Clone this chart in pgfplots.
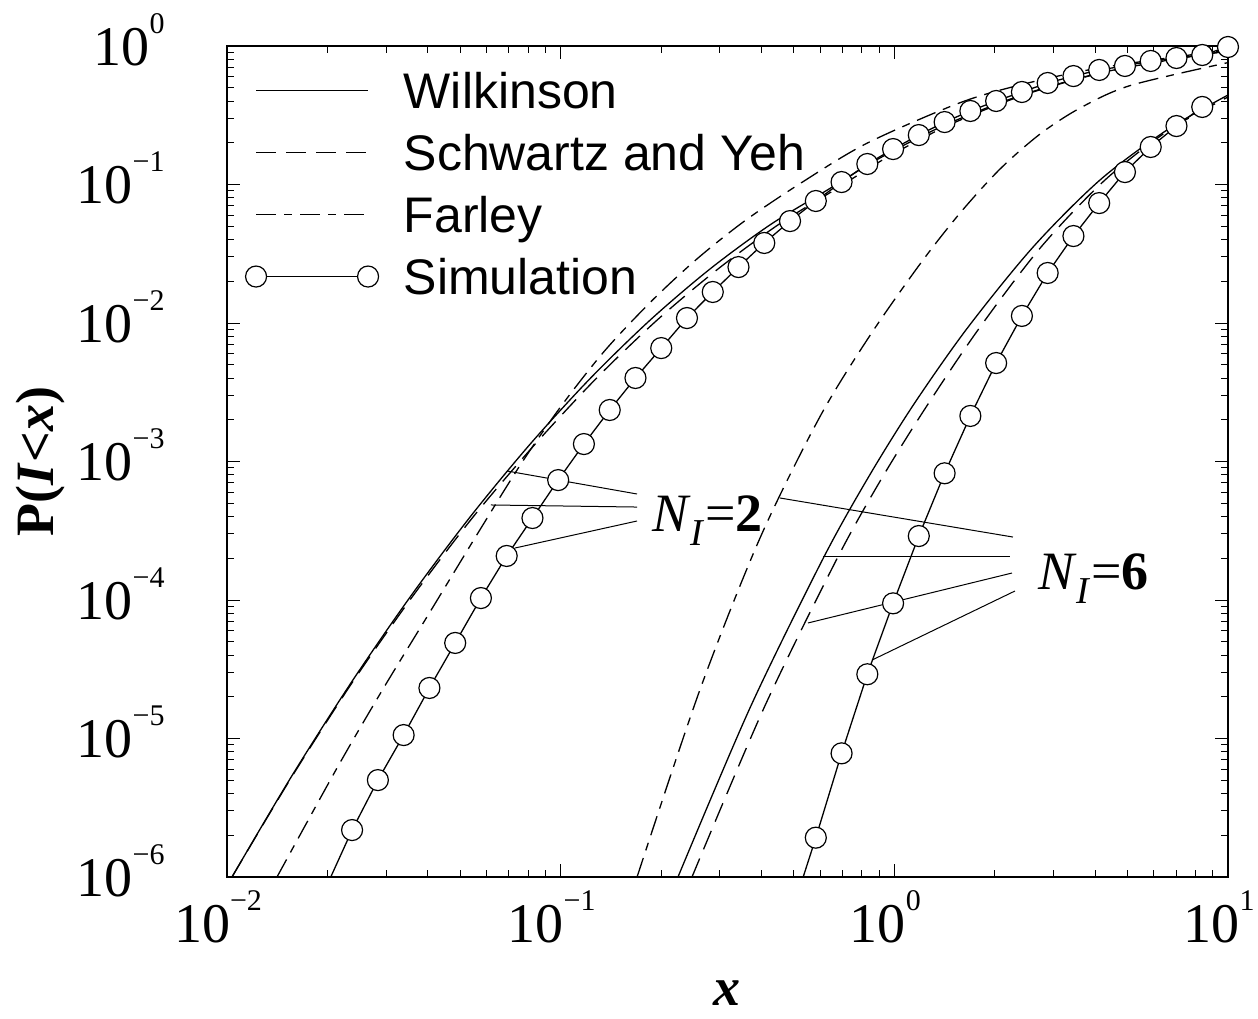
\documentclass[border=0pt]{standalone}
\usepackage{fontspec}
\setmainfont{Liberation Serif}
\newfontfamily\arial{Liberation Sans}
\usepackage{pgfplots}
\pgfplotsset{compat=1.18}
\newcommand\pw[1]{10\raisebox{16pt}{\fontsize{15}{15}\selectfont #1}}
\pgfplotsset{
  lineleg/.style={legend image code/.code={\path (-6pt,0pt) (62pt,0pt); \draw[##1] (0pt,0pt) -- (56pt,0pt);}},
  simleg/.style={legend image code/.code={\path (-6pt,0pt) (62pt,0pt); \draw[mark repeat=1,mark phase=1,##1] plot coordinates {(0pt,0pt) (56pt,0pt)};}},
  wil/.style={black, line width=0.65pt, no marks, smooth},
  sch/.style={black, line width=0.65pt, no marks, smooth, dash pattern=on 10pt off 5pt},
  far/.style={black, line width=0.65pt, no marks, smooth, dash pattern=on 10pt off 4pt on 4pt off 4pt},
  sim/.style={black, line width=0.65pt, mark=*, mark size=5.25pt, mark options={fill=white, draw=black, solid, line width=0.6pt}},
}
\begin{document}
\begin{tikzpicture}
\path[use as bounding box] (-113.5pt,-70.5pt) rectangle (515.5pt,438.5pt);
\begin{axis}[
  at={(0pt,0pt)}, anchor=south west,
  scale only axis, width=500.5pt, height=415.5pt,
  xmode=log, ymode=log,
  xmin=0.01, xmax=10, ymin=1e-6, ymax=1,
  xtick={0.01,0.1,1,10},
  xticklabels={\pw{−2},\pw{−1},\pw{0},\pw{1}},
  ytick={1e-6,1e-5,1e-4,1e-3,1e-2,1e-1,1},
  yticklabels={\pw{−6},\pw{−5},\pw{−4},\pw{−3},\pw{−2},\pw{−1},\pw{0}},
  minor xtick={0.02,0.03,0.04,0.05,0.06,0.07,0.08,0.09,0.2,0.3,0.4,0.5,0.6,0.7,0.8,0.9,2,3,4,5,6,7,8,9},
  minor ytick={2e-6,3e-6,4e-6,5e-6,6e-6,7e-6,8e-6,9e-6,2e-5,3e-5,4e-5,5e-5,6e-5,7e-5,8e-5,9e-5,2e-4,3e-4,4e-4,5e-4,6e-4,7e-4,8e-4,9e-4,2e-3,3e-3,4e-3,5e-3,6e-3,7e-3,8e-3,9e-3,0.02,0.03,0.04,0.05,0.06,0.07,0.08,0.09,0.2,0.3,0.4,0.5,0.6,0.7,0.8,0.9},
  major tick length=6.5pt, minor tick length=3.75pt,
  every tick/.style={black, line width=0.5pt},
  axis line style={line width=1pt},
  tick label style={font=\fontsize{28}{30}\selectfont},
  xticklabel style={anchor=base, yshift=-32.5pt, xshift=-4.5pt, inner sep=0pt},
  yticklabel style={anchor=base east, xshift=-31pt, yshift=-9.5pt, inner sep=0pt},
  xlabel={\textbf{\textit{x}}},
  xlabel style={at={(axis description cs:0.5,-0.140)}, anchor=center, inner sep=0pt, font=\fontsize{27}{30}\selectfont},
  ylabel={\textbf{P(\textit{I}<\textit{x})}},
  ylabel style={at={(axis description cs:-0.186,0.5)}, anchor=center, inner sep=0pt, font=\fontsize{27}{30}\selectfont},
  legend style={at={(axis description cs:0.016,0.983)}, anchor=north west, draw=none, fill=none, inner sep=0pt,
    font=\arial\fontsize{25}{30}\selectfont, row sep=1pt,
    nodes={inner sep=0pt, text height=24pt, text depth=6pt},
    /tikz/every odd column/.append style={column sep=11.5pt}},
  legend cell align=left,
]
% N = 2
\addplot[wil, lineleg] coordinates {(0.010351,1e-6) (0.015447,5.109e-6) (0.02337,2.458e-5) (0.035353,1.0477e-4) (0.053486,3.968e-4) (0.080923,1.3311e-3) (0.12243,3.9618e-3) (0.18525,1.0477e-2) (0.2802,2.454e-2) (0.4240,5.109e-2) (0.6371,9.279e-2) (0.9057,0.15538) (1.419,0.2689) (2.412,0.4428) (4.134,0.6384) (6.935,0.8056) (10,0.9203)};
\addlegendentry{Wilkinson}
\addplot[sch, lineleg] coordinates {(0.010351,1e-6) (0.015501,5.109e-6) (0.023531,2.458e-5) (0.035844,1.0477e-4) (0.054604,3.968e-4) (0.083763,1.3311e-3) (0.12761,3.9618e-3) (0.19442,1.0477e-2) (0.29612,2.454e-2) (0.44808,5.109e-2) (0.66864,9.279e-2) (0.94401,0.15538) (1.4587,0.2689) (2.4455,0.4428) (4.1625,0.6384) (6.935,0.8056) (10,0.9203)};
\addlegendentry{Schwartz and Yeh}
\addplot[far, lineleg] coordinates {(0.01412,1e-6) (0.021448,6.223e-6) (0.02922,2.239e-5) (0.040925,8.472e-5) (0.05652,3.047e-4) (0.07637,9.750e-4) (0.10092,2.559e-3) (0.13614,6.383e-3) (0.18868,1.466e-2) (0.25798,2.944e-2) (0.35927,5.546e-2) (0.5306,0.1042) (0.8309,0.1995) (1.5950,0.3942) (2.5855,0.5495) (4.1053,0.6937) (6.935,0.8329) (10,0.9357)};
\addlegendentry{Farley}
\addplot[black, line width=0.65pt, no marks, forget plot] coordinates {(0.01985,8.5e-7) (0.02371,2.183e-6)};
\addplot[sim, simleg] coordinates {(0.02371,2.183e-6) (0.02833,5.01e-6) (0.03384,1.059e-5) (0.04043,2.317e-5) (0.04830,4.898e-5) (0.05768,1.033e-4) (0.06891,2.080e-4) (0.08232,3.908e-4) (0.09831,7.345e-4) (0.1174,1.337e-3) (0.1403,2.355e-3) (0.1676,4.009e-3) (0.2002,6.592e-3) (0.2391,1.086e-2) (0.2857,1.675e-2) (0.3412,2.535e-2) (0.4076,3.784e-2) (0.4869,5.445e-2) (0.5817,7.603e-2) (0.6949,0.1042) (0.8300,0.1406) (0.9915,0.1803) (1.184,0.2275) (1.415,0.2825) (1.690,0.3396) (2.019,0.4009) (2.412,0.4656) (2.881,0.5408) (3.442,0.6068) (4.111,0.6714) (4.911,0.7178) (5.867,0.7798) (7.008,0.8192) (8.372,0.8611) (10.0,0.9835)};
\addlegendentry{Simulation}
% N = 6
\addplot[wil, forget plot] coordinates {(0.2247,1e-6) (0.36937,1.6633e-5) (0.6113,1.9871e-4) (0.83383,7.613e-4) (1.137,2.5328e-3) (1.651,9.112e-3) (2.604,3.5317e-2) (4.134,0.10777) (6.564,0.24746) (10,0.4428)};
\addplot[sch, forget plot] coordinates {(0.2475,1e-6) (0.4068,1.6633e-5) (0.6733,1.9871e-4) (0.91838,7.613e-4) (1.253,2.5328e-3) (1.7933,9.112e-3) (2.7509,3.5317e-2) (4.279,0.10777) (6.656,0.24746) (10,0.4282)};
\addplot[far, forget plot] coordinates {(0.16943,1e-6) (0.26157,2.2549e-5) (0.39573,2.7981e-4) (0.5987,2.1093e-3) (0.8456,8.137e-3) (1.1937,2.6624e-2) (1.5732,6.216e-2) (2.0730,0.12918) (2.732,0.23118) (3.601,0.35611) (5.0852,0.5177) (10,0.7588)};
\addplot[black, line width=0.65pt, no marks, forget plot] coordinates {(0.4869,5.06e-7) (0.5817,1.923e-6)};
\addplot[sim, forget plot] coordinates {(0.5817,1.923e-6) (0.6949,7.816e-6) (0.8300,2.911e-5) (0.9915,9.462e-5) (1.184,2.897e-4) (1.415,8.222e-4) (1.690,2.133e-3) (2.019,5.141e-3) (2.412,1.125e-2) (2.881,2.297e-2) (3.442,4.246e-2) (4.111,7.345e-2) (4.911,0.1230) (5.867,0.1866) (7.008,0.2643) (8.372,0.3631)};
% annotations
\draw[line width=0.5pt] (rel axis cs:0.2797,0.4886) -- (rel axis cs:0.4096,0.4609);
\draw[line width=0.5pt] (rel axis cs:0.2637,0.4477) -- (rel axis cs:0.4096,0.4452);
\draw[line width=0.5pt] (rel axis cs:0.2877,0.3959) -- (rel axis cs:0.4096,0.4284);
\draw[line width=0.5pt] (rel axis cs:0.5524,0.4561) -- (rel axis cs:0.7852,0.4091);
\draw[line width=0.5pt] (rel axis cs:0.5954,0.3851) -- (rel axis cs:0.7822,0.3851);
\draw[line width=0.5pt] (rel axis cs:0.5804,0.3057) -- (rel axis cs:0.7842,0.3658);
\draw[line width=0.5pt] (rel axis cs:0.6444,0.2611) -- (rel axis cs:0.7872,0.3442);
\node[anchor=base west, inner sep=0pt] at (rel axis cs:0.4246,0.4152) {\fontsize{27}{30}\selectfont\textit{N}\raisebox{-7pt}{\fontsize{19}{19}\selectfont\textit{I}}=\textbf{2}};
\node[anchor=base west, inner sep=0pt] at (rel axis cs:0.8102,0.3454) {\fontsize{27}{30}\selectfont\textit{N}\raisebox{-7pt}{\fontsize{19}{19}\selectfont\textit{I}}=\textbf{6}};
\end{axis}
\end{tikzpicture}
\end{document}
